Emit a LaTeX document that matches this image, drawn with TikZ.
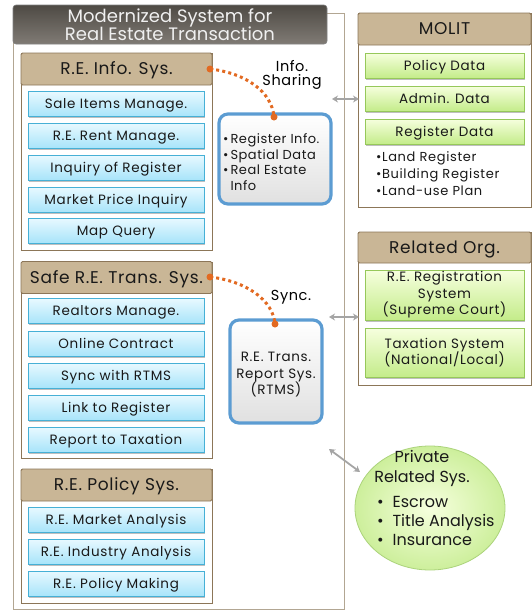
\documentclass[tikz,border=0pt]{standalone}
\usepackage{fontspec}
\setmainfont{Poppins}
\newfontfamily\spaced[LetterSpace=5]{Poppins}
\newfontfamily\spacedsm[LetterSpace=4]{Poppins}
\usetikzlibrary{shapes.geometric,shadows,arrows.meta}
\definecolor{tanhead}{RGB}{201,182,150}
\definecolor{tanline}{RGB}{140,118,88}
\definecolor{frameline}{RGB}{178,166,146}
\definecolor{btnline}{RGB}{70,176,214}
\definecolor{btntop}{RGB}{232,249,255}
\definecolor{btnbot}{RGB}{168,228,250}
\definecolor{grnline}{RGB}{150,200,90}
\definecolor{grntop}{RGB}{246,255,222}
\definecolor{grnbot}{RGB}{196,236,138}
\definecolor{infoline}{RGB}{92,156,210}
\definecolor{dotorange}{RGB}{226,106,34}
\definecolor{arrowgray}{RGB}{165,165,165}
\definecolor{titletop}{RGB}{78,74,68}
\definecolor{titlebot}{RGB}{128,123,117}
\begin{document}
\begin{tikzpicture}[x=1pt,y=-1pt,
  every node/.style={inner sep=0pt,outer sep=0pt,align=center,text=black!90},
  panel/.style={draw=tanline,line width=0.8pt,fill=white,minimum width=191pt},
  phead/.style={draw=tanline,line width=0.8pt,fill=tanhead,rounded corners=1.5pt,
    minimum width=191pt,minimum height=32pt,font=\spacedsm\fontsize{17}{19}\selectfont,
    text height=12pt,text depth=1pt},
  rhead/.style={phead,minimum width=173pt},
  rpanel/.style={panel,minimum width=173pt},
  btnfont/.style={font=\spaced\fontsize{13.5}{16.5}\selectfont},
  btnbase/.style={line width=0.7pt,btnfont,
    drop shadow={shadow xshift=1pt,shadow yshift=-1.5pt,opacity=0.25,fill=black}},
  bluebase/.style={btnbase,draw=btnline,top color=btntop,bottom color=btnbot},
  greenbase/.style={btnbase,draw=grnline,top color=grntop,bottom color=grnbot,minimum width=159pt},
  bbtn/.style={bluebase,minimum width=176pt,minimum height=25pt,text height=10pt,text depth=1pt},
  gbtn/.style={greenbase,minimum height=25pt,text height=10pt,text depth=1pt},
  gbox/.style={greenbase},
  infobox/.style={draw=infoline,line width=3.2pt,rounded corners=9pt,top color=white,bottom color=black!12},
  sidetext/.style={font=\spacedsm\fontsize{13}{15.7}\selectfont},
  flowlabel/.style={font=\spacedsm\fontsize{14.5}{14.5}\selectfont,text=black},
  orangedots/.style={draw=dotorange,line width=3pt,dash pattern=on 3pt off 3.2pt},
  odot/.style={circle,fill=dotorange,minimum size=7pt},
  garrow/.style={draw=arrowgray,line width=1.8pt,{Stealth[length=6pt,width=7pt]}-{Stealth[length=6pt,width=7pt]}}
]
\useasboundingbox (0,0) rectangle (532,611);

% outer frame of the modernized system
\draw[frameline,line width=1pt] (13,13) rectangle (344,609);
\node[draw=black!50,line width=0.6pt,rounded corners=3pt,top color=titletop,bottom color=titlebot,
  minimum width=314pt,minimum height=39pt,text=white!94!black,font=\fontsize{18}{18.5}\selectfont]
  (title) at (170,24.5) {Modernized System for\\Real Estate Transaction};

% ---- R.E. Info. Sys.
\node[panel,minimum height=197pt] (p1) at (116.5,151.5) {};
\node[phead] (h1) at (116.5,69) {R.E. Info. Sys.};
\node[bbtn] (a1) at (116,104) {Sale Items Manage.};
\node[bbtn] (a2) at (116,135.5) {R.E. Rent Manage.};
\node[bbtn] (a3) at (116,167.5) {Inquiry of Register};
\node[bbtn] (a4) at (116,199.5) {Market Price Inquiry};
\node[bbtn] (a5) at (116,230.5) {Map Query};

% ---- Safe R.E. Trans. Sys.
\node[panel,minimum height=196pt] (p2) at (116.5,360) {};
\node[phead] (h2) at (116.5,277.5) {Safe R.E. Trans. Sys.};
\node[bbtn] (s1) at (116,311) {Realtors Manage.};
\node[bbtn] (s2) at (116,343.5) {Online Contract};
\node[bbtn] (s3) at (116,375.5) {Sync with RTMS};
\node[bbtn] (s4) at (116,407.5) {Link to Register};
\node[bbtn] (s5) at (116,439.5) {Report to Taxation};

% ---- R.E. Policy Sys.
\node[panel,minimum height=134pt] (p3) at (116.5,536) {};
\node[phead] (h3) at (116.5,485) {R.E. Policy Sys.};
\node[bbtn] (q1) at (116,519.5) {R.E. Market Analysis};
\node[bbtn] (q2) at (116,551.5) {R.E. Industry Analysis};
\node[bbtn] (q3) at (116,583.5) {R.E. Policy Making};

% ---- shared information and RTMS
\node[infobox,minimum width=112pt,minimum height=90pt] (info) at (275,159) {};
\node[sidetext,align=left,anchor=west] (infotext) at (223,162)
  {•\,Register Info.\\•\,Spatial Data\\•\,Real Estate\\\phantom{•\,}Info};
\node[infobox,minimum width=92pt,minimum height=103pt,btnfont] (rtms) at (276,371.5) {};
\node[btnfont] (rtmstext) at (276,375) {R.E. Trans.\\Report Sys.\\(RTMS)};

\node[flowlabel] (share) at (292,75) {Info.\\Sharing};
\node[flowlabel] (sync) at (291,297) {Sync.};

\coordinate (o1s) at (210,69);
\coordinate (o1e) at (274,117);
\coordinate (o2s) at (210,277);
\coordinate (o2e) at (275,324);
\draw[orangedots] (o1s) .. controls (246,73) and (272,92) .. (o1e);
\draw[orangedots] (o2s) .. controls (246,281) and (273,300) .. (o2e);
\node[odot] (d1) at (o1s) {};
\node[odot] (d2) at (o1e) {};
\node[odot] (d3) at (o2s) {};
\node[odot] (d4) at (o2e) {};

% ---- MOLIT
\node[rpanel,minimum height=194pt] (mol) at (444.5,110) {};
\node[rhead] (mh) at (444.5,29) {MOLIT};
\node[gbtn] (m1) at (444.5,65.5) {Policy Data};
\node[gbtn] (m2) at (444.5,98.5) {Admin. Data};
\node[gbtn] (m3) at (444.5,131.5) {Register Data};
\node[sidetext,align=left,anchor=west,font=\spaced\fontsize{13}{17}\selectfont] (mtext) at (376,174)
  {•Land Register\\•Building Register\\•Land-use Plan};

% ---- Related Org.
\node[rpanel,minimum height=153pt] (rel) at (444.5,308.5) {};
\node[rhead,minimum height=31pt] (rh) at (444.5,247.5) {Related Org.};
\node[gbox,minimum height=50pt] (r1) at (444.5,295) {R.E. Registration\\System\\(Supreme Court)};
\node[gbox,minimum height=49pt] (r2) at (444.5,352.5) {Taxation System\\(National/Local)};

% ---- private related systems
\node[ellipse,draw=grnline!80,line width=0.8pt,inner color=grntop,outer color=grnbot!85,
  minimum width=150pt,minimum height=124pt] (priv) at (430,508) {};
\node[font=\fontsize{16}{20}\selectfont] (privt) at (422,468) {Private\\Related Sys.};
\node[font=\fontsize{16}{19}\selectfont,align=left,anchor=west] (privl) at (377,521)
  {•\hspace{9pt}Escrow\\•\hspace{9pt}Title Analysis\\•\hspace{9pt}Insurance};

% ---- links to outside organisations
\coordinate (g1a) at (332,99);
\coordinate (g1b) at (359,99);
\coordinate (g2a) at (329,317);
\coordinate (g2b) at (359,317);
\coordinate (g3a) at (329,449);
\coordinate (g3b) at (360,472);
\draw[garrow] (g1a) -- (g1b);
\draw[garrow] (g2a) -- (g2b);
\draw[garrow] (g3a) -- (g3b);
\end{tikzpicture}
\end{document}
